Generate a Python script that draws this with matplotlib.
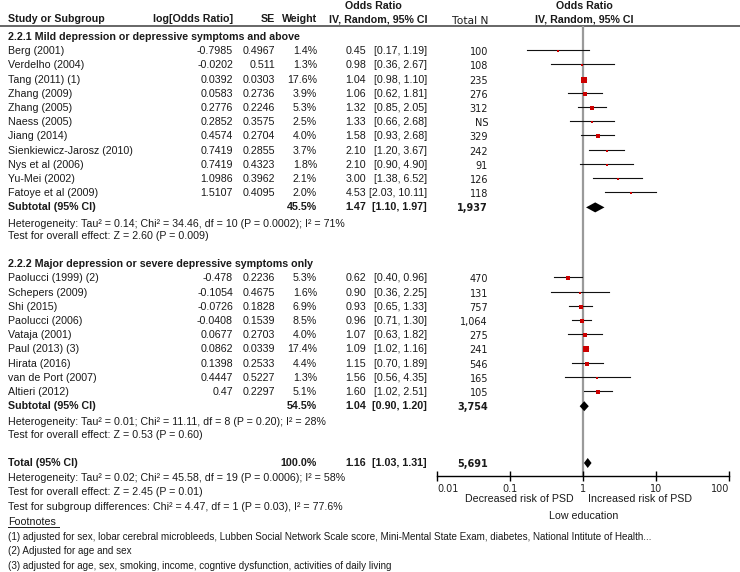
import matplotlib.pyplot as plt
import numpy as np

plt.rcParams["font.family"] = ["Liberation Sans", "DejaVu Sans"]

# 2.2.1 Mild depression or depressive symptoms and above
names1 = ["Berg (2001)", "Verdelho (2004)", "Tang (2011) (1)", "Zhang (2009)", "Zhang (2005)",
          "Naess (2005)", "Jiang (2014)", "Sienkiewicz-Jarosz (2010)", "Nys et al (2006)",
          "Yu-Mei (2002)", "Fatoye et al (2009)"]
logor1 = ["-0.7985", "-0.0202", "0.0392", "0.0583", "0.2776", "0.2852", "0.4574", "0.7419",
          "0.7419", "1.0986", "1.5107"]
se1 = ["0.4967", "0.511", "0.0303", "0.2736", "0.2246", "0.3575", "0.2704", "0.2855", "0.4323",
       "0.3962", "0.4095"]
weight1 = [1.4, 1.3, 17.6, 3.9, 5.3, 2.5, 4.0, 3.7, 1.8, 2.1, 2.0]
or1 = [0.45, 0.98, 1.04, 1.06, 1.32, 1.33, 1.58, 2.10, 2.10, 3.00, 4.53]
lo1 = [0.17, 0.36, 0.98, 0.62, 0.85, 0.66, 0.93, 1.20, 0.90, 1.38, 2.03]
hi1 = [1.19, 2.67, 1.10, 1.81, 2.05, 2.68, 2.68, 3.67, 4.90, 6.52, 10.11]
n1 = ["100", "108", "235", "276", "312", "NS", "329", "242", "91", "126", "118"]

# 2.2.2 Major depression or severe depressive symptoms only
names2 = ["Paolucci (1999) (2)", "Schepers (2009)", "Shi (2015)", "Paolucci (2006)", "Vataja (2001)",
          "Paul (2013) (3)", "Hirata (2016)", "van de Port (2007)", "Altieri (2012)"]
logor2 = ["-0.478", "-0.1054", "-0.0726", "-0.0408", "0.0677", "0.0862", "0.1398", "0.4447", "0.47"]
se2 = ["0.2236", "0.4675", "0.1828", "0.1539", "0.2703", "0.0339", "0.2533", "0.5227", "0.2297"]
weight2 = [5.3, 1.6, 6.9, 8.5, 4.0, 17.4, 4.4, 1.3, 5.1]
or2 = [0.62, 0.90, 0.93, 0.96, 1.07, 1.09, 1.15, 1.56, 1.60]
lo2 = [0.40, 0.36, 0.65, 0.71, 0.63, 1.02, 0.70, 0.56, 1.02]
hi2 = [0.96, 2.25, 1.33, 1.30, 1.82, 1.16, 1.89, 4.35, 2.51]
n2 = ["470", "131", "757", "1,064", "275", "241", "546", "165", "105"]

# pooled estimates: subgroup 1, subgroup 2, total
pool_label = ["Subtotal (95% CI)", "Subtotal (95% CI)", "Total (95% CI)"]
pool_weight = [45.5, 54.5, 100.0]
pool_or = [1.47, 1.04, 1.16]
pool_lo = [1.10, 0.90, 1.03]
pool_hi = [1.97, 1.20, 1.31]
pool_n = ["1,937", "3,754", "5,691"]

groups = ["2.2.1 Mild depression or depressive symptoms and above",
          "2.2.2 Major depression or severe depressive symptoms only"]
het = ["Heterogeneity: Tau² = 0.14; Chi² = 34.46, df = 10 (P = 0.0002); I² = 71%",
       "Heterogeneity: Tau² = 0.01; Chi² = 11.11, df = 8 (P = 0.20); I² = 28%",
       "Heterogeneity: Tau² = 0.02; Chi² = 45.58, df = 19 (P = 0.0006); I² = 58%"]
effect = ["Test for overall effect: Z = 2.60 (P = 0.009)",
          "Test for overall effect: Z = 0.53 (P = 0.60)",
          "Test for overall effect: Z = 2.45 (P = 0.01)"]
subdiff = "Test for subgroup differences: Chi² = 4.47, df = 1 (P = 0.03), I² = 77.6%"
footnotes = ["(1) adjusted for sex, lobar cerebral microbleeds, Lubben Social Network Scale score, "
             "Mini-Mental State Exam, diabetes, National Intitute of Health...",
             "(2) Adjusted for age and sex",
             "(3) adjusted for age, sex, smoking, income, cogntive dysfunction, activities of daily living"]
xticks = [0.01, 0.1, 1, 10, 100]
xticklabels = ["0.01", "0.1", "1", "10", "100"]

W, H = 740, 572
fs = 7.7
fs_note = 7.1
fs_n = 7.0
txt = "#1a1a1a"
red = "#cc0000"
verd = "DejaVu Sans"

fig = plt.figure(figsize=(W / 100, H / 100), dpi=100)
tab = fig.add_axes([0, 0, 1, 1])
tab.set_xlim(0, W)
tab.set_ylim(H, 0)
tab.axis("off")

# forest panel, y in the same pixel rows as the table
ytop, yax = 26, 476
x0, x1 = 437, 729
fx = fig.add_axes([x0 / W, 1 - yax / H, (x1 - x0) / W, (yax - ytop) / H])
fx.set_xscale("log")
fx.set_xlim(0.01, 100)
fx.set_ylim(yax, ytop)
fx.patch.set_alpha(0)
for s in ["left", "right", "top"]:
    fx.spines[s].set_visible(False)
fx.spines["bottom"].set_linewidth(1.0)
fx.set_yticks([])
fx.set_xticks(xticks)
fx.set_xticklabels(xticklabels, family=verd, fontsize=fs_n, color="#222222")
labs = fx.get_xticklabels()
labs[0].set_ha("left")
labs[-1].set_ha("right")
fx.minorticks_off()
fx.tick_params(axis="x", direction="inout", length=7, width=1.0, pad=2)
fx.axvline(1, color="#9a9a9a", lw=1.6, zorder=0)

# column positions (right edges unless noted)
c_name, c_log, c_se, c_w, c_or, c_ci, c_n = 8, 233, 275, 317, 366, 427, 488

# headers
tab.text(373, 6, "Odds Ratio", ha="center", va="center", fontsize=fs, weight="bold", color=txt)
tab.text(584, 6, "Odds Ratio", ha="center", va="center", fontsize=fs, weight="bold", color=txt)
hy = 19
tab.text(c_name, hy, "Study or Subgroup", ha="left", va="center", fontsize=fs, weight="bold", color=txt)
tab.text(c_log, hy, "log[Odds Ratio]", ha="right", va="center", fontsize=fs, weight="bold", color=txt)
tab.text(c_se, hy, "SE", ha="right", va="center", fontsize=fs, weight="bold", color=txt)
tab.text(c_w, hy, "Weight", ha="right", va="center", fontsize=fs, weight="bold", color=txt)
tab.text(378, hy, "IV, Random, 95% CI", ha="center", va="center", fontsize=fs, weight="bold", color=txt)
tab.text(470, hy + 2, "Total N", ha="center", va="center", fontsize=fs, family=verd, color=txt)
tab.text(584, hy, "IV, Random, 95% CI", ha="center", va="center", fontsize=fs, weight="bold", color=txt)
tab.plot([0, W], [ytop, ytop], color="#666666", lw=1.4)

step = 14.2


def study_rows(y, names, logor, se, weight, ors, lo, hi, ns):
    for i in range(len(names)):
        yy = y + i * step
        tab.text(c_name, yy, names[i], ha="left", va="center", fontsize=fs, color=txt)
        tab.text(c_log, yy, logor[i], ha="right", va="center", fontsize=fs, color=txt)
        tab.text(c_se, yy, se[i], ha="right", va="center", fontsize=fs, color=txt)
        tab.text(c_w, yy, f"{weight[i]:.1f}%", ha="right", va="center", fontsize=fs, color=txt)
        tab.text(c_or, yy, f"{ors[i]:.2f}", ha="right", va="center", fontsize=fs, color=txt)
        tab.text(c_ci, yy, f"[{lo[i]:.2f}, {hi[i]:.2f}]", ha="right", va="center", fontsize=fs, color=txt)
        tab.text(c_n, yy + 1, ns[i], ha="right", va="center", fontsize=fs_n, family=verd, color=txt)
        fx.plot([lo[i], hi[i]], [yy - 1, yy - 1], color="#111111", lw=0.8)
        side = 1.1 * np.sqrt(weight[i])
        fx.plot(ors[i], yy, marker="s", ms=side * 0.72 + 0.6, color=red, mec=red, mew=0)
    return y + len(names) * step


def pooled(y, k):
    tab.text(c_name, y, pool_label[k], ha="left", va="center", fontsize=fs, weight="bold", color=txt)
    tab.text(c_w, y, f"{pool_weight[k]:.1f}%", ha="right", va="center", fontsize=fs, weight="bold", color=txt)
    tab.text(c_or, y, f"{pool_or[k]:.2f}", ha="right", va="center", fontsize=fs, weight="bold", color=txt)
    tab.text(c_ci, y, f"[{pool_lo[k]:.2f}, {pool_hi[k]:.2f}]", ha="right", va="center", fontsize=fs,
             weight="bold", color=txt)
    tab.text(c_n, y + 1, pool_n[k], ha="right", va="center", fontsize=fs_n, family=verd, weight="bold",
             color=txt)
    fx.fill([pool_lo[k], pool_or[k], pool_hi[k], pool_or[k]], [y, y - 5, y, y + 5], color="black", lw=0)


y = 37
for g, (names, logor, se, weight, ors, lo, hi, ns) in enumerate([
        (names1, logor1, se1, weight1, or1, lo1, hi1, n1),
        (names2, logor2, se2, weight2, or2, lo2, hi2, n2)]):
    tab.text(c_name, y, groups[g], ha="left", va="center", fontsize=fs, weight="bold", color=txt)
    y = study_rows(y + step, names, logor, se, weight, ors, lo, hi, ns)
    pooled(y, g)
    tab.text(c_name, y + step + 2, het[g], ha="left", va="center", fontsize=fs, color=txt)
    tab.text(c_name, y + 2 * step, effect[g], ha="left", va="center", fontsize=fs, color=txt)
    y = y + 4 * step

# overall
pooled(y, 2)
fstep = 14.7
tab.text(c_name, y + fstep, het[2], ha="left", va="center", fontsize=fs, color=txt)
tab.text(c_name, y + 2 * fstep, effect[2], ha="left", va="center", fontsize=fs, color=txt)
tab.text(c_name, y + 3 * fstep, subdiff, ha="left", va="center", fontsize=fs, color=txt)
tab.text(c_name, y + 4 * fstep, "Footnotes", ha="left", va="center", fontsize=fs, color=txt)
tab.plot([c_name, c_name + 51], [y + 4 * fstep + 5.5, y + 4 * fstep + 5.5], color=txt, lw=0.7)
for i, note in enumerate(footnotes):
    tab.text(c_name, y + (5 + i) * fstep, note, ha="left", va="center", fontsize=fs_note, color=txt)

# axis captions
tab.text(574, 499, "Decreased risk of PSD", ha="right", va="center", fontsize=fs, color=txt)
tab.text(588, 499, "Increased risk of PSD", ha="left", va="center", fontsize=fs, color=txt)
tab.text(584, 516, "Low education", ha="center", va="center", fontsize=fs, color=txt)

fig.savefig("out.png", dpi=100)
